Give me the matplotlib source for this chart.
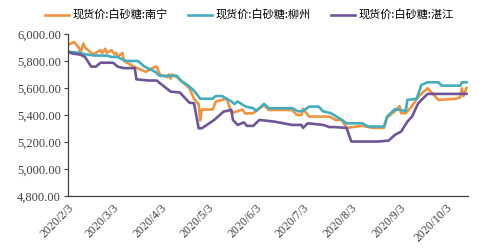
from matplotlib import pyplot as plt
import matplotlib.ticker as mticker
import pandas as pd

plt.rcParams["font.family"] = ["Noto Sans CJK SC", "DejaVu Sans"]

labels = ["现货价:白砂糖:南宁", "现货价:白砂糖:柳州", "现货价:白砂糖:湛江"]
colors = ["#EE9440", "#45ACC0", "#6F5598"]

nanning_dates = ["2020-02-03", "2020-02-05", "2020-02-07", "2020-02-10", "2020-02-11",
                 "2020-02-13", "2020-02-14", "2020-02-17", "2020-02-19", "2020-02-21",
                 "2020-02-24", "2020-02-25", "2020-02-27", "2020-02-28", "2020-03-02",
                 "2020-03-04", "2020-03-05", "2020-03-06", "2020-03-09", "2020-03-10",
                 "2020-03-16", "2020-03-20", "2020-03-24", "2020-03-27", "2020-03-31",
                 "2020-04-02", "2020-04-07", "2020-04-08", "2020-04-09", "2020-04-10",
                 "2020-04-13", "2020-04-17", "2020-04-21", "2020-04-24", "2020-04-27",
                 "2020-04-28", "2020-04-29", "2020-05-06", "2020-05-08", "2020-05-15",
                 "2020-05-18", "2020-05-20", "2020-05-25", "2020-05-27", "2020-06-01",
                 "2020-06-04", "2020-06-08", "2020-06-11", "2020-06-26", "2020-06-29",
                 "2020-07-02", "2020-07-03", "2020-07-07", "2020-07-20", "2020-07-24",
                 "2020-07-28", "2020-07-31", "2020-08-10", "2020-08-17", "2020-08-24",
                 "2020-08-26", "2020-09-01", "2020-09-03", "2020-09-04", "2020-09-07",
                 "2020-09-11", "2020-09-15", "2020-09-21", "2020-09-23", "2020-09-28",
                 "2020-10-09", "2020-10-12", "2020-10-13", "2020-10-14", "2020-10-16"]
nanning = [5920, 5930, 5940, 5900, 5860,
           5930, 5900, 5870, 5850, 5860,
           5880, 5860, 5890, 5860, 5880,
           5850, 5860, 5830, 5860, 5800,
           5760, 5740, 5720, 5740, 5760,
           5700, 5680, 5700, 5670, 5700,
           5680, 5640, 5600, 5520, 5480,
           5360, 5440, 5440, 5500, 5520,
           5420, 5420, 5440, 5410, 5413,
           5440, 5474, 5437, 5437, 5400,
           5400, 5445, 5388, 5388, 5363,
           5363, 5304, 5319, 5304, 5304,
           5380, 5437, 5465, 5413, 5413,
           5465, 5536, 5598, 5573, 5511,
           5520, 5530, 5598, 5540, 5600]

liuzhou_dates = ["2020-02-03", "2020-02-11", "2020-02-14", "2020-02-20", "2020-02-28",
                 "2020-03-02", "2020-03-06", "2020-03-09", "2020-03-12", "2020-03-19",
                 "2020-03-23", "2020-03-30", "2020-04-02", "2020-04-13", "2020-04-16",
                 "2020-04-20", "2020-04-24", "2020-04-28", "2020-05-06", "2020-05-08",
                 "2020-05-12", "2020-05-18", "2020-05-20", "2020-05-22", "2020-05-26",
                 "2020-05-28", "2020-06-01", "2020-06-03", "2020-06-08", "2020-06-11",
                 "2020-06-26", "2020-06-30", "2020-07-03", "2020-07-07", "2020-07-13",
                 "2020-07-16", "2020-07-21", "2020-07-28", "2020-07-31", "2020-08-10",
                 "2020-08-14", "2020-08-24", "2020-08-26", "2020-08-31", "2020-09-07",
                 "2020-09-08", "2020-09-14", "2020-09-17", "2020-09-21", "2020-09-28",
                 "2020-09-30", "2020-10-12", "2020-10-13", "2020-10-16"]
liuzhou = [5869, 5860, 5850, 5840, 5840,
           5830, 5830, 5810, 5800, 5800,
           5760, 5720, 5690, 5690, 5650,
           5620, 5580, 5520, 5520, 5540,
           5540, 5500, 5480, 5500, 5470,
           5460, 5450, 5430, 5482, 5450,
           5450, 5426, 5430, 5462, 5462,
           5426, 5413, 5363, 5338, 5338,
           5314, 5314, 5388, 5443, 5430,
           5511, 5520, 5622, 5642, 5642,
           5617, 5617, 5642, 5642]

zhanjiang_dates = ["2020-02-03", "2020-02-06", "2020-02-11", "2020-02-14", "2020-02-18",
                   "2020-02-21", "2020-02-24", "2020-03-03", "2020-03-06", "2020-03-10",
                   "2020-03-17", "2020-03-18", "2020-03-26", "2020-03-31", "2020-04-09",
                   "2020-04-15", "2020-04-21", "2020-04-24", "2020-04-27", "2020-04-29",
                   "2020-05-07", "2020-05-13", "2020-05-18", "2020-05-19", "2020-05-22",
                   "2020-05-26", "2020-05-28", "2020-06-01", "2020-06-05", "2020-06-15",
                   "2020-06-26", "2020-07-02", "2020-07-03", "2020-07-06", "2020-07-16",
                   "2020-07-20", "2020-07-23", "2020-07-31", "2020-08-03", "2020-08-20",
                   "2020-08-27", "2020-08-31", "2020-09-04", "2020-09-08", "2020-09-11",
                   "2020-09-15", "2020-09-21", "2020-10-16"]
zhanjiang = [5869, 5855, 5847, 5830, 5758,
             5758, 5787, 5787, 5758, 5747,
             5747, 5664, 5655, 5655, 5573,
             5566, 5491, 5487, 5301, 5301,
             5363, 5425, 5437, 5363, 5326,
             5345, 5319, 5319, 5363, 5350,
             5326, 5326, 5304, 5338, 5326,
             5310, 5310, 5304, 5203, 5203,
             5210, 5252, 5277, 5350, 5388,
             5487, 5556, 5556]

tick_dates = ["2020-02-03", "2020-03-03", "2020-04-03", "2020-05-03", "2020-06-03",
              "2020-07-03", "2020-08-03", "2020-09-03", "2020-10-03"]
tick_labels = ["2020/2/3", "2020/3/3", "2020/4/3", "2020/5/3", "2020/6/3",
               "2020/7/3", "2020/8/3", "2020/9/3", "2020/10/3"]

fig = plt.figure(figsize=(4.99, 2.48), dpi=100)
ax = fig.add_axes([0.136, 0.21, 0.802, 0.653])

series = [(nanning_dates, nanning), (liuzhou_dates, liuzhou), (zhanjiang_dates, zhanjiang)]
for (d, v), lab, c in zip(series, labels, colors):
    ax.plot(pd.to_datetime(d), v, color=c, lw=1.9, label=lab)

ax.set_ylim(4800, 6000)
ax.set_yticks(range(4800, 6001, 200))
ax.yaxis.set_major_formatter(mticker.FuncFormatter(lambda v, p: f"{v:,.2f}"))
ax.set_xlim(pd.Timestamp("2020-02-03"), pd.Timestamp("2020-10-17"))
ax.set_xticks(pd.to_datetime(tick_dates))
ax.set_xticklabels(tick_labels)

for s in ["top", "right"]:
    ax.spines[s].set_visible(False)
for s in ["left", "bottom"]:
    ax.spines[s].set_color("#404040")
    ax.spines[s].set_linewidth(0.9)

ax.tick_params(axis="y", length=3, width=0.8, color="#404040", pad=2)
ax.tick_params(axis="x", length=0, pad=4)
for t in ax.get_yticklabels():
    t.set_family("Liberation Serif")
    t.set_fontsize(9)
    t.set_color("#404040")
for t in ax.get_xticklabels():
    t.set_family("Liberation Serif")
    t.set_fontsize(8.5)
    t.set_color("#404040")
    t.set_rotation(45)
    t.set_ha("right")
    t.set_rotation_mode("anchor")

fig.legend(loc="upper center", bbox_to_anchor=(0.5, 1.0), ncol=3, frameon=False,
           fontsize=8, handlelength=2.2, columnspacing=1.8, handletextpad=0.3,
           prop={"family": ["Noto Sans CJK SC", "DejaVu Sans"], "size": 8, "weight": "medium"})

fig.savefig("out.png", dpi=100)
